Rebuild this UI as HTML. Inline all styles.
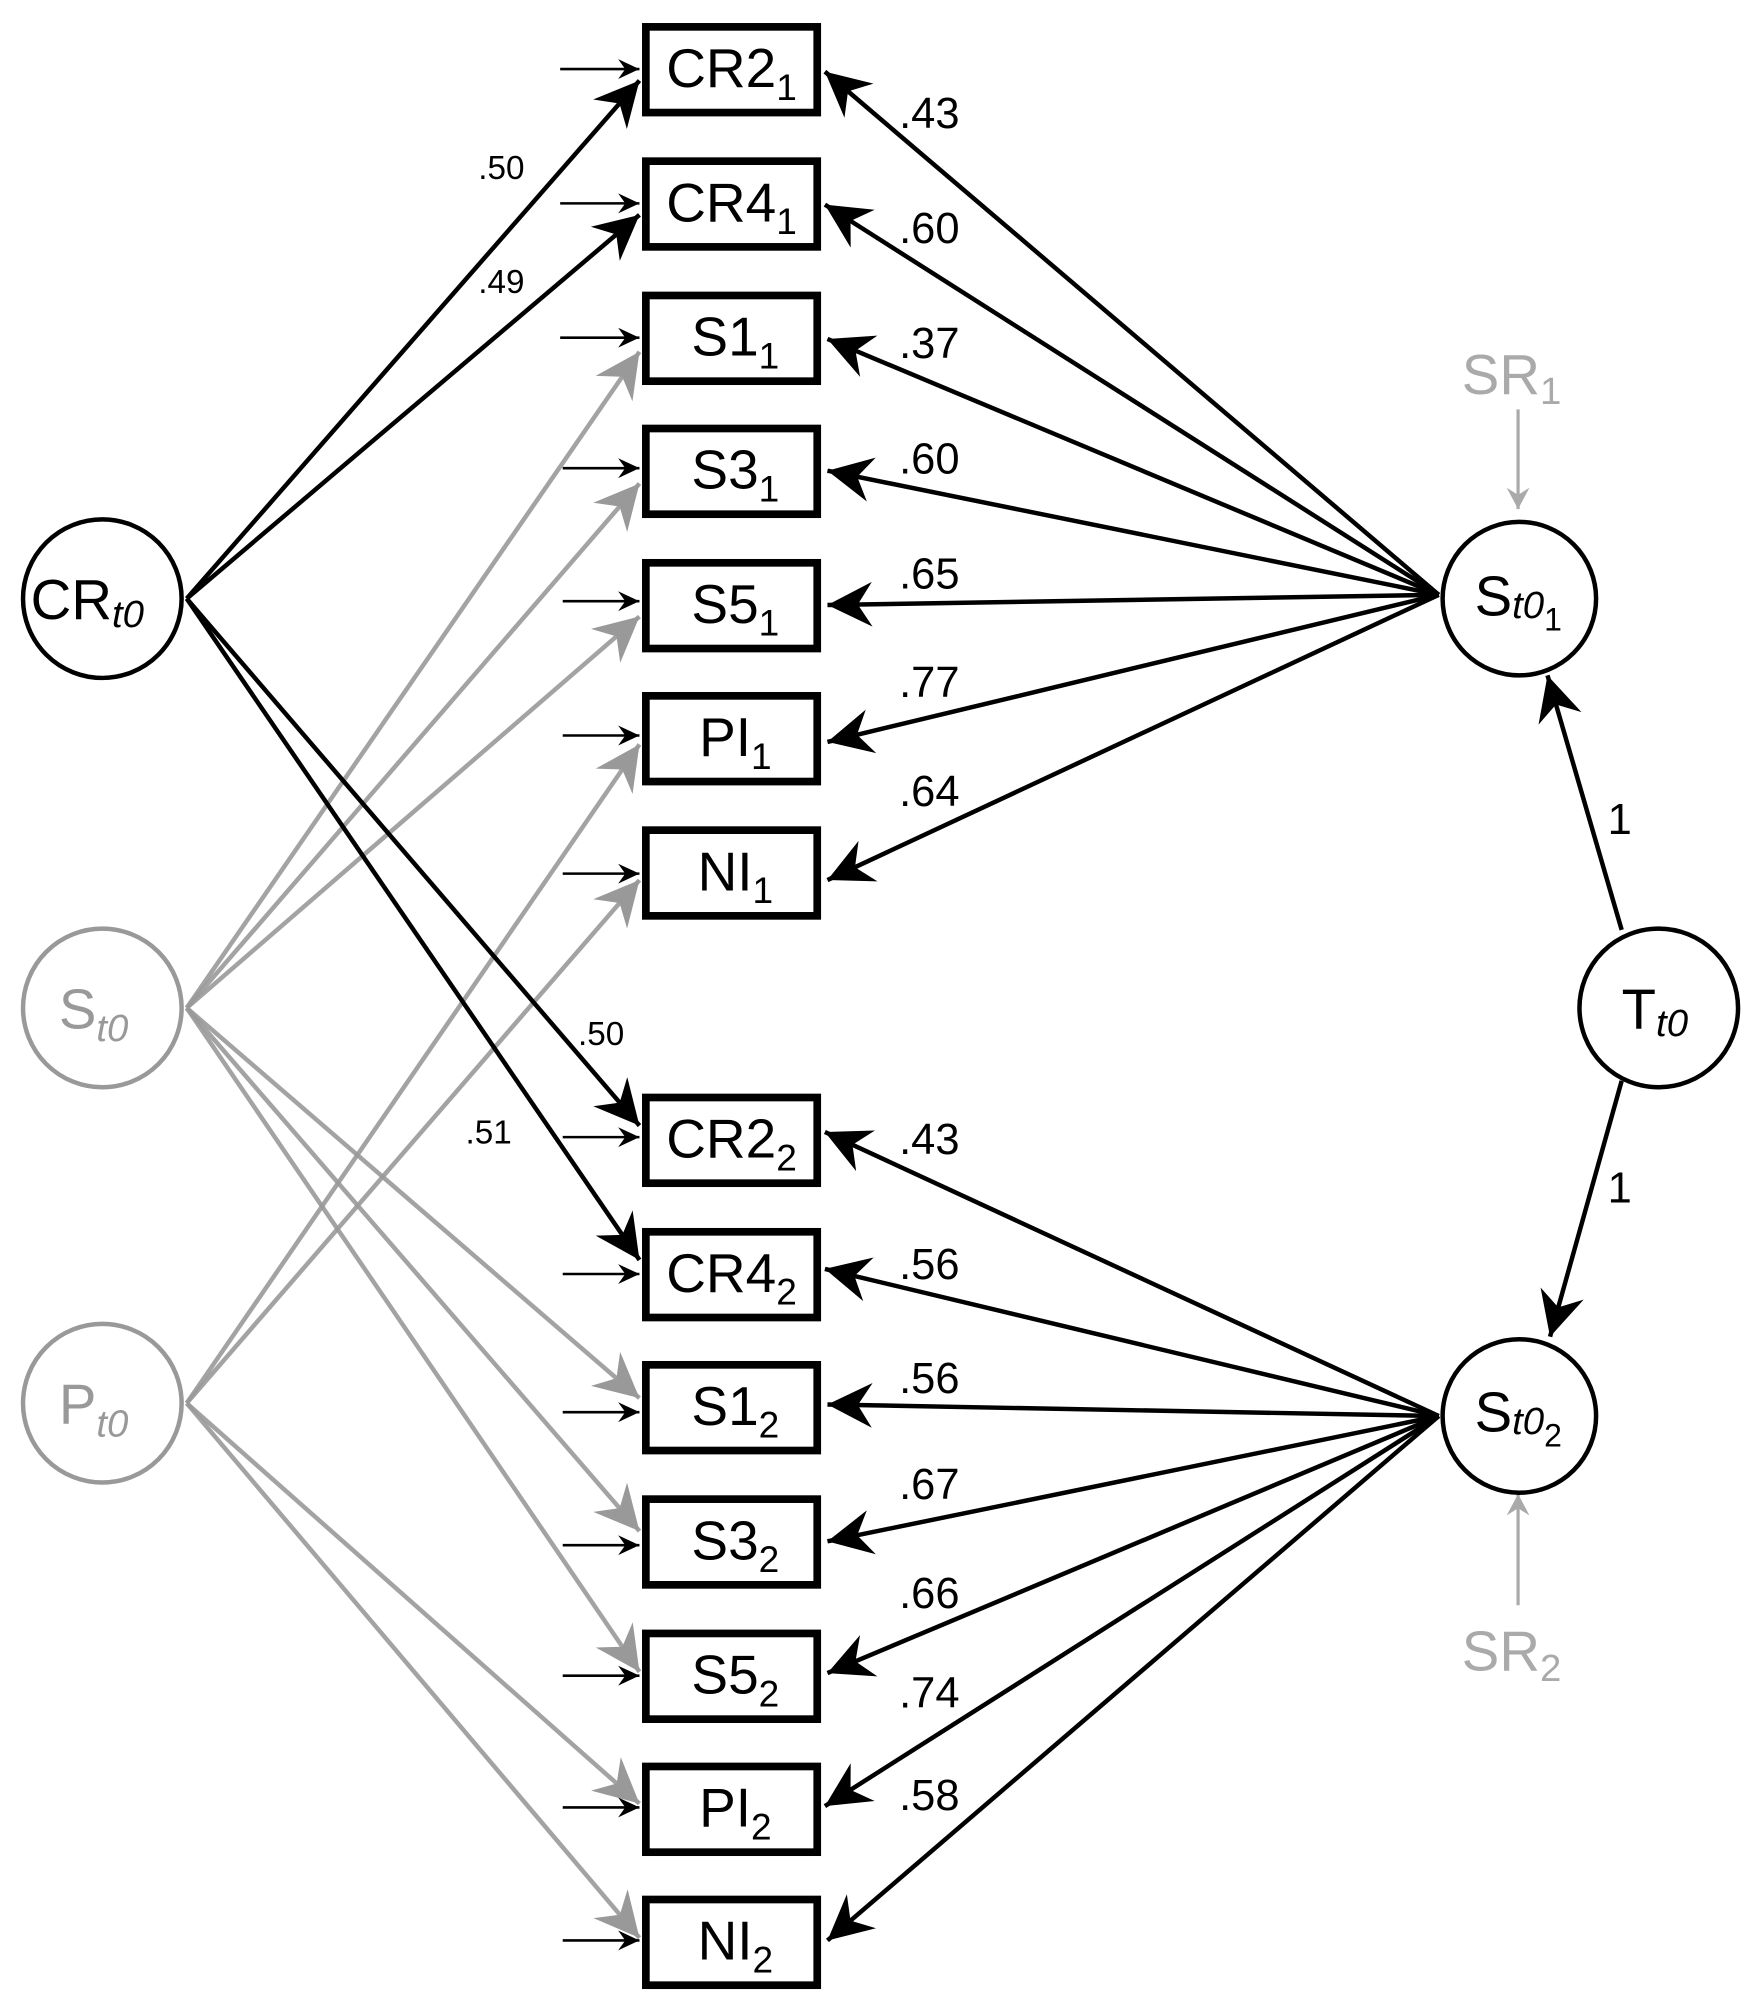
<!DOCTYPE html>
<html><head><meta charset="utf-8"><style>
html,body{margin:0;padding:0;background:#fff}
svg{display:block}
text{font-family:"Liberation Sans",Arial,sans-serif}
</style></head><body>
<svg width="1747" height="1998" viewBox="0 0 1366 1562" preserveAspectRatio="none" xmlns="http://www.w3.org/2000/svg">
<defs>
<marker id="hb" markerUnits="userSpaceOnUse" markerWidth="40" markerHeight="40" refX="0" refY="0" viewBox="-30 -15 32 30" orient="auto" overflow="visible">
<path d="M0,0 L-28,-14 L-19,0 L-28,14 Z" fill="#000"/></marker>
<marker id="hg" markerUnits="userSpaceOnUse" markerWidth="40" markerHeight="40" refX="0" refY="0" viewBox="-30 -15 32 30" orient="auto" overflow="visible">
<path d="M0,0 L-28,-14 L-19,0 L-28,14 Z" fill="#999"/></marker>
<marker id="hs" markerUnits="userSpaceOnUse" markerWidth="20" markerHeight="20" refX="0" refY="0" viewBox="-16 -8 18 16" orient="auto" overflow="visible">
<path d="M0,0 L-15,-7 L-10,0 L-15,7 Z" fill="#000"/></marker>
<marker id="hsg" markerUnits="userSpaceOnUse" markerWidth="20" markerHeight="20" refX="0" refY="0" viewBox="-16 -8 18 16" orient="auto" overflow="visible">
<path d="M0,0 L-15,-8 L-10,0 L-15,8 Z" fill="#aaa"/></marker>
</defs>

<g stroke="#999" stroke-width="3.5" fill="none" marker-end="url(#hg)" stroke-opacity="0.9">
<line x1="146" y1="788" x2="500" y2="275"/>
<line x1="146" y1="788" x2="500" y2="378"/>
<line x1="146" y1="788" x2="500" y2="482"/>
<line x1="146" y1="788" x2="500" y2="1093"/>
<line x1="146" y1="788" x2="500" y2="1197"/>
<line x1="146" y1="788" x2="500" y2="1307"/>
<line x1="146" y1="1097" x2="500" y2="582"/>
<line x1="146" y1="1097" x2="500" y2="688"/>
<line x1="146" y1="1097" x2="500" y2="1410"/>
<line x1="146" y1="1097" x2="500" y2="1515"/>
</g>

<g stroke="#000" stroke-width="3.5" fill="none" marker-end="url(#hb)">
<line x1="146" y1="468" x2="500" y2="63"/>
<line x1="146" y1="468" x2="500" y2="168"/>
<line x1="146" y1="468" x2="500" y2="880"/>
<line x1="146" y1="468" x2="500" y2="985"/>
</g>

<g stroke="#000" stroke-width="3.5" fill="none" marker-end="url(#hb)">
<line x1="1125" y1="465" x2="645" y2="56"/>
<line x1="1125" y1="465" x2="645" y2="160"/>
<line x1="1125" y1="465" x2="647" y2="265"/>
<line x1="1125" y1="465" x2="647" y2="368"/>
<line x1="1125" y1="465" x2="647" y2="473"/>
<line x1="1125" y1="465" x2="647" y2="580"/>
<line x1="1125" y1="465" x2="647" y2="688"/>
<line x1="1125" y1="1107" x2="645" y2="885"/>
<line x1="1125" y1="1107" x2="645" y2="992"/>
<line x1="1125" y1="1107" x2="647" y2="1098"/>
<line x1="1125" y1="1107" x2="647" y2="1205"/>
<line x1="1125" y1="1107" x2="647" y2="1308"/>
<line x1="1125" y1="1107" x2="645" y2="1412"/>
<line x1="1125" y1="1107" x2="647" y2="1517"/>
<line x1="1268" y1="727" x2="1210" y2="528"/>
<line x1="1268" y1="845" x2="1212" y2="1045"/>
</g>

<g stroke="#000" stroke-width="2" marker-end="url(#hs)">
<line x1="438" y1="54" x2="500" y2="54"/>
<line x1="438" y1="159" x2="500" y2="159"/>
<line x1="438" y1="264" x2="500" y2="264"/>
<line x1="440" y1="366" x2="500" y2="366"/>
<line x1="440" y1="470" x2="500" y2="470"/>
<line x1="440" y1="575" x2="500" y2="575"/>
<line x1="440" y1="683" x2="500" y2="683"/>
<line x1="440" y1="889" x2="500" y2="889"/>
<line x1="440" y1="996" x2="500" y2="996"/>
<line x1="440" y1="1104" x2="500" y2="1104"/>
<line x1="440" y1="1208" x2="500" y2="1208"/>
<line x1="440" y1="1310" x2="500" y2="1310"/>
<line x1="440" y1="1413" x2="500" y2="1413"/>
<line x1="440" y1="1517" x2="500" y2="1517"/>
</g>
<g stroke="#aaa" stroke-width="2.5" marker-end="url(#hsg)">
<line x1="1187" y1="320" x2="1187" y2="398"/>
<line x1="1187" y1="1255" x2="1187" y2="1168"/>
</g>

<g fill="#fff" stroke="#000" stroke-width="6">
<rect x="505" y="21" width="134" height="67"/>
<rect x="505" y="126" width="134" height="67"/>
<rect x="505" y="231" width="134" height="67"/>
<rect x="505" y="335" width="134" height="67"/>
<rect x="505" y="440" width="134" height="67"/>
<rect x="505" y="544" width="134" height="67"/>
<rect x="505" y="649" width="134" height="67"/>
<rect x="505" y="858" width="134" height="67"/>
<rect x="505" y="963" width="134" height="67"/>
<rect x="505" y="1067" width="134" height="67"/>
<rect x="505" y="1172" width="134" height="67"/>
<rect x="505" y="1277" width="134" height="67"/>
<rect x="505" y="1381" width="134" height="67"/>
<rect x="505" y="1485" width="134" height="67"/>
</g>
<g font-size="43" fill="#000" text-anchor="middle">
<text x="572" y="68">CR2<tspan font-size="29" dy="10">1</tspan></text>
<text x="572" y="173">CR4<tspan font-size="29" dy="10">1</tspan></text>
<text x="575" y="278">S1<tspan font-size="29" dy="10">1</tspan></text>
<text x="575" y="382">S3<tspan font-size="29" dy="10">1</tspan></text>
<text x="575" y="487">S5<tspan font-size="29" dy="10">1</tspan></text>
<text x="575" y="591">PI<tspan font-size="29" dy="10">1</tspan></text>
<text x="575" y="696">NI<tspan font-size="29" dy="10">1</tspan></text>
<text x="572" y="905">CR2<tspan font-size="29" dy="10">2</tspan></text>
<text x="572" y="1010">CR4<tspan font-size="29" dy="10">2</tspan></text>
<text x="575" y="1114">S1<tspan font-size="29" dy="10">2</tspan></text>
<text x="575" y="1219">S3<tspan font-size="29" dy="10">2</tspan></text>
<text x="575" y="1324">S5<tspan font-size="29" dy="10">2</tspan></text>
<text x="575" y="1428">PI<tspan font-size="29" dy="10">2</tspan></text>
<text x="575" y="1532">NI<tspan font-size="29" dy="10">2</tspan></text>
</g>

<circle cx="80" cy="468" r="62" fill="#fff" stroke="#000" stroke-width="3.5"/>
<circle cx="80" cy="788" r="62" fill="#fff" stroke="#999" stroke-width="3.5"/>
<circle cx="80" cy="1097" r="62" fill="#fff" stroke="#999" stroke-width="3.5"/>
<circle cx="1188" cy="468" r="60" fill="#fff" stroke="#000" stroke-width="3.5"/>
<circle cx="1297" cy="788" r="62" fill="#fff" stroke="#000" stroke-width="3.5"/>
<circle cx="1188" cy="1107" r="60" fill="#fff" stroke="#000" stroke-width="3.5"/>
<g font-size="44">
<text x="24" y="484" fill="#000">CR<tspan font-style="italic" font-size="30" dy="6">t0</tspan></text>
<text x="46" y="804" fill="#999">S<tspan font-style="italic" font-size="30" dy="10">t0</tspan></text>
<text x="46" y="1113" fill="#999">P<tspan font-style="italic" font-size="30" dy="10">t0</tspan></text>
<text x="1153" y="481" fill="#000">S<tspan font-style="italic" font-size="30" dy="2">t0</tspan><tspan font-size="25" dy="10">1</tspan></text>
<text x="1268" y="804" fill="#000">T<tspan font-style="italic" font-size="30" dy="6">t0</tspan></text>
<text x="1153" y="1119" fill="#000">S<tspan font-style="italic" font-size="30" dy="2">t0</tspan><tspan font-size="25" dy="10">2</tspan></text>
<text x="1143" y="308" fill="#aaa">SR<tspan font-size="30" dy="8">1</tspan></text>
<text x="1143" y="1306" fill="#aaa">SR<tspan font-size="30" dy="8">2</tspan></text>
</g>

<g font-size="26" fill="#000">
<text x="374" y="140">.50</text>
<text x="374" y="229">.49</text>
<text x="452" y="817">.50</text>
<text x="364" y="894">.51</text>
</g>
<g font-size="34" fill="#000">
<text x="703" y="100">.43</text>
<text x="703" y="190">.60</text>
<text x="703" y="280">.37</text>
<text x="703" y="370">.60</text>
<text x="703" y="460">.65</text>
<text x="703" y="545">.77</text>
<text x="703" y="630">.64</text>
<text x="703" y="902">.43</text>
<text x="703" y="1000">.56</text>
<text x="703" y="1089">.56</text>
<text x="703" y="1172">.67</text>
<text x="703" y="1257">.66</text>
<text x="703" y="1335">.74</text>
<text x="703" y="1415">.58</text>
<text x="1257" y="652">1</text>
<text x="1257" y="940">1</text>
</g>
</svg>
</body></html>
